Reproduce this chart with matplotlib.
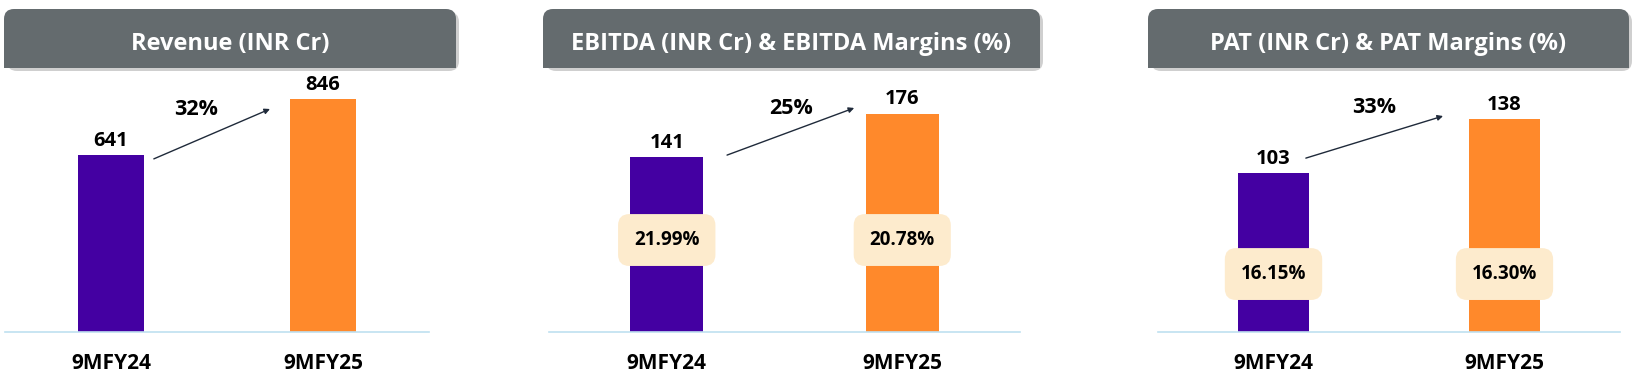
import matplotlib
matplotlib.use("Agg")
import matplotlib.pyplot as plt
from matplotlib.patches import FancyBboxPatch, Rectangle

plt.rcParams['font.family'] = ['Open Sans', 'DejaVu Sans']

# ---- data ----
periods = ["9MFY24", "9MFY25"]
titles = ["Revenue (INR Cr)",
          "EBITDA (INR Cr) & EBITDA Margins (%)",
          "PAT (INR Cr) & PAT Margins (%)"]
revenue = [641, 846]
ebitda = [141, 176]
pat = [103, 138]
ebitda_margin = ["21.99%", "20.78%"]
pat_margin = ["16.15%", "16.30%"]
growth = ["32%", "25%", "33%"]

series = [revenue, ebitda, pat]
margins = [None, ebitda_margin, pat_margin]

# ---- layout (pixels of the 1637x378 canvas) ----
W, H = 1637, 378
BASE, TOP = 332, 80
axes_x = [(5, 429), (549, 1020), (1158, 1620)]
ymax = [915, 203, 163.3]
header_x = [(4, 456), (543, 1040), (1148, 1629)]
header_y = (9, 68)
# growth label (x, y) and arrow start/end, in axes fraction
growth_pos = [(0.45, 0.883), (0.514, 0.885), (0.468, 0.889)]
arrow_pos = [((0.351, 0.687), (0.625, 0.885)),
             ((0.378, 0.702), (0.648, 0.889)),
             ((0.32, 0.69), (0.617, 0.857))]
margin_y = [None, 0.365, 0.23]

PURPLE = "#4400A2"
ORANGE = "#FF892B"
HEADER = "#646B6E"
PEACH = "#FDEBCD"
BASELINE = "#BFE0F0"

fig = plt.figure(figsize=(W / 100, H / 100), dpi=100)

# header boxes on an overlay in pixel units
ov = fig.add_axes([0, 0, 1, 1], zorder=0)
ov.set_xlim(0, W)
ov.set_ylim(H, 0)
ov.axis("off")
for (x0, x1), title in zip(header_x, titles):
    y0, y1 = header_y
    shadow = FancyBboxPatch((x0 + 3, y0 + 3), x1 - x0, y1 - y0,
                            boxstyle="round,pad=0,rounding_size=10",
                            fc="#C4C4C4", ec="none", alpha=0.8)
    ov.add_patch(shadow)
    box = FancyBboxPatch((x0, y0), x1 - x0, y1 - y0,
                         boxstyle="round,pad=0,rounding_size=10",
                         fc=HEADER, ec="none")
    ov.add_patch(box)
    ov.add_patch(Rectangle((x0, y0 + 20), x1 - x0, y1 - y0 - 20, fc=HEADER, ec="none"))
    ov.text((x0 + x1) / 2, 44, title, color="white",
            fontsize=17, fontweight="bold", ha="center", va="center")

for i, vals in enumerate(series):
    x0, x1 = axes_x[i]
    ax = fig.add_axes([x0 / W, (H - BASE) / H, (x1 - x0) / W, (BASE - TOP) / H], zorder=1)
    ax.patch.set_alpha(0)
    bars = ax.bar(range(len(periods)), vals, width=0.31, color=[PURPLE, ORANGE], zorder=2)
    ax.set_xlim(-0.5, 1.5)
    ax.set_ylim(0, ymax[i])
    for b, v in zip(bars, vals):
        ax.annotate(str(v), (b.get_x() + b.get_width() / 2, v), xytext=(0, 3),
                    textcoords="offset points", ha="center", va="bottom",
                    fontsize=14.5, fontweight="bold", color="black")
    for s in ["top", "right", "left"]:
        ax.spines[s].set_visible(False)
    ax.spines["bottom"].set_color(BASELINE)
    ax.spines["bottom"].set_linewidth(1.2)
    ax.set_yticks([])
    ax.set_xticks(range(len(periods)))
    ax.set_xticklabels(periods, fontsize=15, fontweight="bold")
    ax.tick_params(axis="x", length=0, pad=15)

    gx, gy = growth_pos[i]
    ax.text(gx, gy, growth[i], transform=ax.transAxes, ha="center", va="center",
            fontsize=15.5, fontweight="bold")
    (sx, sy), (ex, ey) = arrow_pos[i]
    ax.annotate("", xy=(ex, ey), xytext=(sx, sy), xycoords="axes fraction",
                textcoords="axes fraction",
                arrowprops=dict(arrowstyle="-|>", color="#1F2A3A", lw=1.0,
                                mutation_scale=8, shrinkA=0, shrinkB=0))

    if margins[i] is not None:
        for k, m in enumerate(margins[i]):
            ax.text(k, margin_y[i], m, transform=ax.get_xaxis_transform(),
                    ha="center", va="center", fontsize=13.5, fontweight="bold", zorder=3,
                    bbox=dict(boxstyle="round,pad=0.85,rounding_size=0.6",
                              fc=PEACH, ec="none"))

fig.savefig("out.png", dpi=100)
